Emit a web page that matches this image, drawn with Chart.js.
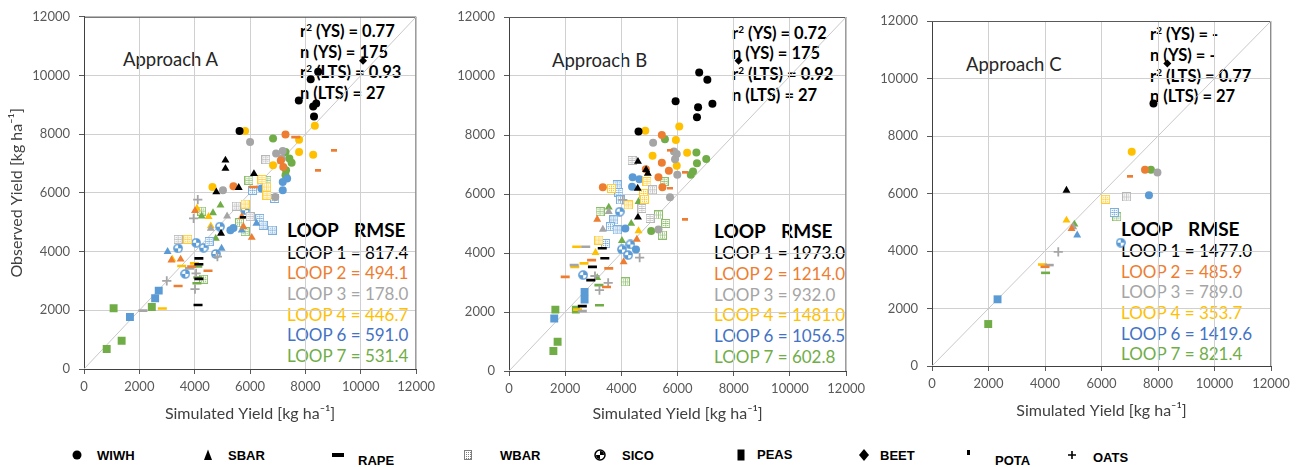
<!DOCTYPE html>
<html><head><meta charset="utf-8">
<script src="https://cdn.jsdelivr.net/npm/chart.js@4.4.0/dist/chart.umd.min.js"></script>
<style>
body{margin:0;width:1302px;height:467px;background:#fff;position:relative;overflow:hidden;font-family:Lato,"Open Sans",sans-serif}
canvas.cv{position:absolute;top:0;z-index:2}
.t{position:absolute;white-space:nowrap;z-index:1;line-height:20px}
.sup{font-size:10px;position:relative;top:-6px}
.lg{position:absolute;white-space:nowrap;font-family:"Liberation Sans",Arial,sans-serif;font-weight:bold;font-size:13px;line-height:16px;color:#000}
.lgi{position:absolute}
</style>
</head><body>
<script>
// ---------------- DATA ----------------
const CATEGORIES = ['WIWH','SBAR','RAPE','WBAR','SICO','PEAS','BEET','POTA','OATS'];
const LOOP_NAMES = ['LOOP 1','LOOP 2','LOOP 3','LOOP 4','LOOP 6','LOOP 7'];
const AXIS_TICKS = [0,2000,4000,6000,8000,10000,12000];

// Approach A: [simulated, observed, crop]
const A_LOOP1 = [[7760,9150,'WIWH'],[8190,9870,'WIWH'],[8460,10130,'WIWH'],[8280,8940,'WIWH'],[8390,9050,'WIWH'],[8310,8600,'WIWH'],[5620,8110,'WIWH'],
  [10080,10500,'BEET'],
  [5110,7110,'SBAR'],[5110,6830,'SBAR'],[4780,6030,'SBAR'],[5590,6180,'SBAR'],[6140,6650,'SBAR'],[4950,4620,'SBAR'],
  [4150,3770,'RAPE'],[4150,3570,'RAPE'],[4150,3070,'RAPE'],[4120,2180,'RAPE'],[5760,5160,'POTA']];
const A_LOOP2 = [[7280,7990,'WIWH'],[7110,7100,'WIWH'],[7200,6880,'WIWH'],[5400,6230,'WIWH'],
  [4010,5390,'SBAR'],[3490,3740,'SBAR'],[3160,3710,'SBAR'],[5760,4850,'SBAR'],[6060,4480,'SBAR'],[5700,5190,'SBAR'],
  [3400,2830,'RAPE'],[4480,3350,'RAPE'],[3890,3490,'RAPE'],[6120,6200,'RAPE'],[7650,7900,'RAPE'],
  [8460,6750,'POTA'],[9040,7430,'POTA']];
const A_LOOP3 = [[6000,7730,'WIWH'],[6940,7340,'WIWH'],[7180,7430,'WIWH'],[7150,7170,'WIWH'],[5020,6090,'WIWH'],[6910,5860,'WIWH'],
  [5170,5210,'SBAR'],[4580,4790,'SBAR'],
  [4110,5770,'OATS'],[3960,5130,'OATS'],[2990,3000,'OATS'],[4010,2720,'OATS'],[4820,3830,'OATS'],[4050,3260,'OATS'],
  [3400,4420,'WBAR'],[6570,7130,'WBAR'],[5500,5550,'WBAR'],[6000,5190,'WBAR'],
  [2130,1990,'RAPE'],[3810,3430,'RAPE']];
const A_LOOP4 = [[5820,8110,'WIWH'],[8340,8290,'WIWH'],[7770,7810,'WIWH'],[7770,7390,'WIWH'],[8280,7300,'WIWH'],[6830,6940,'WIWH'],[4640,6200,'WIWH'],
  [3190,3740,'SBAR'],[4080,5470,'SBAR'],[4500,5190,'SBAR'],[4580,4870,'SBAR'],
  [3750,4420,'WBAR'],[5820,5620,'WBAR'],[6610,5920,'WBAR'],[6430,6460,'WBAR'],[6600,6200,'WBAR'],
  [2830,2060,'RAPE'],[3530,3510,'RAPE'],[3990,3600,'RAPE']];
const A_LOOP6 = [[1660,1770,'PEAS'],[2570,2410,'PEAS'],[2700,2670,'PEAS'],
  [3020,4000,'SBAR'],[4970,4110,'SBAR'],[5700,4730,'SBAR'],[6230,4960,'SBAR'],
  [3400,4110,'SICO'],[4050,4300,'SICO'],[4320,4130,'SICO'],[4760,3920,'SICO'],[4910,4850,'SICO'],[5820,5410,'SICO'],[3660,3240,'SICO'],
  [5290,4730,'WIWH'],[6410,6150,'WIWH'],[7180,6370,'WIWH'],[7180,6090,'WIWH'],[7340,6490,'WIWH'],[5400,4800,'WIWH'],
  [6090,6090,'WBAR'],[6890,5810,'WBAR'],[6350,5130,'WBAR'],[6470,4900,'WBAR'],[6800,4730,'WBAR'],[4520,4340,'WBAR']];
const A_LOOP7 = [[820,680,'PEAS'],[1070,2070,'PEAS'],[1360,960,'PEAS'],[2450,2110,'PEAS'],
  [6830,7850,'WIWH'],[7280,7390,'WIWH'],[7420,7170,'WIWH'],[7500,7030,'WIWH'],[7300,6770,'WIWH'],[7280,6600,'WIWH'],
  [4250,5210,'SBAR'],[4930,5580,'SBAR'],[4660,5320,'SBAR'],[4760,4450,'SBAR'],
  [4250,5380,'WBAR'],[5960,6430,'WBAR'],[6610,6430,'WBAR'],[5820,4680,'WBAR'],[5620,4980,'WBAR'],[4320,3060,'WBAR'],
  [4110,3490,'RAPE'],[4110,3120,'RAPE'],[4080,2920,'RAPE']];

// Approach B
const B_LOOP1 = [[6770,10120,'WIWH'],[7060,9870,'WIWH'],[7240,9060,'WIWH'],[6730,8940,'WIWH'],[6690,8600,'WIWH'],[5930,9140,'WIWH'],[4610,8120,'WIWH'],
  [8170,10520,'BEET'],
  [4590,7100,'SBAR'],[4880,6820,'SBAR'],[4940,6700,'SBAR'],[4580,6190,'SBAR'],[4590,5210,'SBAR'],
  [2970,3530,'RAPE'],[2910,3080,'RAPE'],[2610,2200,'RAPE'],[3320,4160,'RAPE'],[3410,3820,'RAPE']];
const B_LOOP2 = [[3340,6230,'WIWH'],[5440,8000,'WIWH'],[5440,7060,'WIWH'],[5690,6790,'WIWH'],[5320,6570,'WIWH'],[4870,6840,'WIWH'],[5460,6230,'WIWH'],
  [3140,5140,'SBAR'],[4080,3700,'SBAR'],[4550,4460,'SBAR'],
  [2000,3190,'RAPE'],[2940,3760,'RAPE'],[3550,3480,'RAPE'],[3470,2850,'RAPE'],[6260,5120,'POTA'],[5730,7470,'POTA'],[6280,6720,'POTA'],[5740,6190,'POTA']];
const B_LOOP3 = [[5130,7740,'WIWH'],[5870,7440,'WIWH'],[5970,7360,'WIWH'],[5910,7180,'WIWH'],[5990,6650,'WIWH'],[5730,5890,'WIWH'],[5320,4800,'WIWH'],
  [3340,4800,'SBAR'],[3550,5400,'SBAR'],
  [4650,3840,'OATS'],[3220,2740,'OATS'],[3530,2990,'OATS'],[3060,3220,'OATS'],[4050,5800,'OATS'],
  [4380,7140,'WBAR'],[4730,5510,'WBAR'],[5020,5170,'WBAR'],[5110,6140,'WBAR'],
  [2730,4210,'RAPE'],[2320,3590,'RAPE'],[2610,2030,'RAPE']];
const B_LOOP4 = [[4850,8140,'WIWH'],[6060,8290,'WIWH'],[5940,7830,'WIWH'],[5110,7300,'WIWH'],[6340,7400,'WIWH'],[5970,6960,'WIWH'],
  [3080,4010,'SBAR'],[4610,4750,'SBAR'],
  [3650,6190,'WBAR'],[4910,6420,'WBAR'],[4790,6020,'WBAR'],[4820,5820,'WBAR'],[4240,5630,'WBAR'],[3200,4440,'WBAR'],
  [2410,4210,'RAPE'],[2340,3530,'RAPE'],[2670,3650,'RAPE'],[2440,2080,'RAPE']];
const B_LOOP6 = [[1610,1780,'PEAS'],[2690,2680,'PEAS'],[2690,2420,'PEAS'],
  [4400,6570,'WIWH'],[4640,6500,'WIWH'],[4380,6250,'WIWH'],[4140,4830,'WIWH'],[4520,4120,'WIWH'],
  [2640,3250,'SICO'],[3940,5400,'SICO'],[4020,4120,'SICO'],[4240,3930,'SICO'],[4320,4290,'SICO'],
  [3850,6310,'WBAR'],[3910,6050,'WBAR'],[3970,5800,'WBAR'],[3730,5120,'WBAR'],[3610,4890,'WBAR'],[3440,4320,'WBAR'],[3850,4780,'WBAR']];
const B_LOOP7 = [[1650,2080,'PEAS'],[2380,2080,'PEAS'],[1730,990,'PEAS'],[1580,680,'PEAS'],
  [5550,7860,'WIWH'],[6670,7410,'WIWH'],[7020,7190,'WIWH'],[6690,7040,'WIWH'],[6550,6760,'WIWH'],[6470,6650,'WIWH'],[5060,4750,'WIWH'],
  [3550,5550,'SBAR'],[3140,3160,'SBAR'],[4020,4420,'SBAR'],[4350,5000,'SBAR'],[4610,5740,'SBAR'],
  [3240,5400,'WBAR'],[5320,5290,'WBAR'],[5580,5000,'WBAR'],[5460,4610,'WBAR'],[5520,6420,'WBAR'],[4140,3020,'WBAR'],
  [3200,2910,'RAPE'],[3220,2230,'RAPE']];

// Approach C
const C_LOOP1 = [[7840,9130,'WIWH'],[8330,10520,'BEET'],[4760,6110,'SBAR']];
const C_LOOP2 = [[7540,6830,'WIWH'],[7010,6580,'POTA'],[4940,4780,'SBAR'],[4000,3450,'RAPE']];
const C_LOOP3 = [[7980,6730,'WIWH'],[6890,5880,'WBAR'],[5000,4840,'SBAR'],[4470,3970,'OATS'],[4150,3510,'RAPE']];
const C_LOOP4 = [[7070,7450,'WIWH'],[6150,5800,'WBAR'],[4760,5070,'SBAR'],[3910,3530,'RAPE']];
const C_LOOP6 = [[7680,5940,'WIWH'],[6450,5340,'WBAR'],[6680,4290,'SICO'],[5140,4550,'SBAR'],[2320,2320,'PEAS']];
const C_LOOP7 = [[7750,6830,'WIWH'],[6540,5190,'WBAR'],[5040,4930,'SBAR'],[4020,3240,'RAPE'],[1990,1460,'PEAS']];

const RMSE_A = ['817.4','494.1','178.0','446.7','591.0','531.4'];
const RMSE_B = ['1973.0','1214.0','932.0','1481.0','1056.5','602.8'];
const RMSE_C = ['1477.0','485.9','789.0','353.7','1419.6','821.4'];
const STATS_A = ['0.77','175','0.93','27'];
const STATS_B = ['0.72','175','0.92','27'];
const STATS_C = ['-','-','0.77','27'];

// ---------------- STYLE ----------------
const MARK_COLORS = ['#000000','#ED7D31','#A5A5A5','#FFC000','#5B9BD5','#70AD47'];
const TEXT_COLORS = ['#000000','#ED7D31','#A5A5A5','#FFC000','#4472C4','#70AD47'];

function iconCanvas(crop, color){
  const c = document.createElement('canvas');
  if (crop === 'WBAR'){
    c.width = 9; c.height = 9;
    const g2 = c.getContext('2d');
    g2.fillStyle = '#fff'; g2.fillRect(0,0,9,9);
    g2.globalAlpha = 0.8; g2.strokeStyle = color; g2.lineWidth = 1; g2.strokeRect(0.5,0.5,8,8);
    g2.fillStyle = color; g2.globalAlpha = 0.9;
    for (const px of [2,4,6]) for (const py of [2,4,6]) g2.fillRect(px,py,1,1);
    g2.globalAlpha = 0.45; g2.fillRect(1,4,7,1); g2.fillRect(4,1,1,7);
  } else if (crop === 'SICO'){
    c.width = 10; c.height = 10;
    const g2 = c.getContext('2d');
    g2.fillStyle = '#fff'; g2.beginPath(); g2.arc(5,5,4.2,0,Math.PI*2); g2.fill();
    g2.strokeStyle = color; g2.lineWidth = 1.5; g2.beginPath(); g2.arc(5,5,4.1,0,Math.PI*2); g2.stroke();
    g2.fillStyle = color; g2.beginPath(); g2.moveTo(5,5); g2.arc(5,5,4,-Math.PI/2,0); g2.closePath(); g2.fill();
    g2.beginPath(); g2.moveTo(5,5); g2.arc(5,5,4,Math.PI/2,Math.PI); g2.closePath(); g2.fill();
  } else if (crop === 'POTA'){
    c.width = 6; c.height = 3;
    const g2 = c.getContext('2d');
    g2.fillStyle = color; g2.fillRect(0,0,6,2.5);
  }
  return c;
}

function styleFor(crop, color){
  switch(crop){
    case 'WIWH': return {pointStyle:'circle', pointRadius:4, backgroundColor:color, borderColor:color, borderWidth:0};
    case 'SBAR': return {pointStyle:'triangle', pointRadius:4.6, backgroundColor:color, borderColor:color, borderWidth:0};
    case 'RAPE': return {pointStyle:'line', pointRadius:4.5, backgroundColor:color, borderColor:color, borderWidth:2.6};
    case 'PEAS': return {pointStyle:'rect', pointRadius:5.6, backgroundColor:color, borderColor:color, borderWidth:0};
    case 'BEET': return {pointStyle:'rectRot', pointRadius:4, backgroundColor:color, borderColor:color, borderWidth:0};
    case 'OATS': return {pointStyle:'cross', pointRadius:4.6, backgroundColor:color, borderColor:color, borderWidth:1.8};
    default: return {pointStyle: iconCanvas(crop, color), pointRadius:4, backgroundColor:color, borderColor:color};
  }
}

const framePlugin = {
  id:'frame',
  beforeDatasetsDraw(chart){
    const a = chart.chartArea, ctx = chart.ctx;
    ctx.save();
    ctx.lineWidth = 1;
    ctx.strokeStyle = '#595959';
    ctx.beginPath(); ctx.moveTo(a.left, a.top+0.5); ctx.lineTo(a.right, a.top+0.5); ctx.stroke();
    ctx.strokeStyle = '#8c8c8c';
    ctx.beginPath(); ctx.moveTo(a.right-0.5, a.top); ctx.lineTo(a.right-0.5, a.bottom); ctx.stroke();
    ctx.restore();
  }
};

const PANELS = [
  {left:0, width:440, yW:84, padR:18, padT:16, xH:61, tPad:7, yTitle:true, loops:[A_LOOP1,A_LOOP2,A_LOOP3,A_LOOP4,A_LOOP6,A_LOOP7], rmse:RMSE_A, stats:STATS_A,
   statX:300, statY:[31,52,72,93], apX:123, apY:59, ap:'Approach A', loopX:287, rmseX:354, loopY:[230,253,273,294,315,335,356]},
  {left:430, width:440, yW:79, padR:21, padT:17, xH:59, tPad:7, yTitle:false, loops:[B_LOOP1,B_LOOP2,B_LOOP3,B_LOOP4,B_LOOP6,B_LOOP7], rmse:RMSE_B, stats:STATS_B,
   statX:732, statY:[33,53,74,95], apX:552, apY:60, ap:'Approach B', loopX:714, rmseX:781, loopY:[231,253,274,295,315,336,357]},
  {left:860, width:442, yW:72, padR:31, padT:21, xH:64, tPad:10, yTitle:false, loops:[C_LOOP1,C_LOOP2,C_LOOP3,C_LOOP4,C_LOOP6,C_LOOP7], rmse:RMSE_C, stats:STATS_C,
   statX:1150, statY:[34,55,76,96], apX:966, apY:64, ap:'Approach C', loopX:1121, rmseX:1188, loopY:[229,251,272,292,313,334,354]}
];

function addText(html, left, cy, css){
  const d = document.createElement('div');
  d.className = 't'; d.innerHTML = html;
  d.style.left = left + 'px'; d.style.top = (cy - 10) + 'px';
  Object.assign(d.style, css || {});
  document.body.appendChild(d);
}

const H = 430;
PANELS.forEach(p => {
  // texts
  const st = p.stats;
  const lines = ['r<span class="sup">2</span> (YS) = ' + st[0], 'n (YS) = ' + st[1], 'r<span class="sup">2</span> (LTS) = ' + st[2], 'n (LTS) = ' + st[3]];
  lines.forEach((l,i) => addText(l, p.statX, p.statY[i], {fontWeight:'bold', fontSize:'16.5px', color:'#000'}));
  addText(p.ap, p.apX, p.apY, {fontSize:'18.5px', color:'#262626'});
  addText('LOOP', p.loopX, p.loopY[0], {fontWeight:'bold', fontSize:'19px', color:'#000'});
  addText('RMSE', p.rmseX, p.loopY[0], {fontWeight:'bold', fontSize:'19px', color:'#000'});
  LOOP_NAMES.forEach((n,i) => addText(n + ' = ' + p.rmse[i], p.loopX, p.loopY[i+1], {fontSize:'17px', color:TEXT_COLORS[i]}));

  // chart
  const cv = document.createElement('canvas');
  cv.className = 'cv'; cv.width = p.width; cv.height = H;
  cv.style.left = p.left + 'px'; cv.style.width = p.width + 'px'; cv.style.height = H + 'px';
  document.body.appendChild(cv);

  const datasets = [];
  p.loops.forEach((loop, li) => {
    CATEGORIES.forEach(crop => {
      const pts = loop.filter(d => d[2] === crop).map(d => ({x:d[0], y:d[1]}));
      if (!pts.length) return;
      datasets.push(Object.assign({label: LOOP_NAMES[li] + ' ' + crop, data: pts, order: li}, styleFor(crop, MARK_COLORS[li])));
    });
  });
  datasets.push({type:'line', label:'1:1', data:[{x:0,y:0},{x:12000,y:12000}], borderColor:'#c8c8c8', borderWidth:1, pointRadius:0, showLine:true, order:100});

  const gridOpts = {color:'#d0d0d0', borderDash:[6,3,2,3], tickColor:'#595959', tickBorderDash:[], tickLength:5, drawTicks:true};
  const tickFont = {family:'Lato', size:13};
  const fmt = v => String(v);
  new Chart(cv, {
    type:'scatter',
    data:{datasets},
    plugins:[framePlugin],
    options:{
      responsive:false, animation:false, devicePixelRatio:1,
      layout:{padding:{top:p.padT, right:p.padR, left:0, bottom:0}},
      plugins:{legend:{display:false}, tooltip:{enabled:false}},
      scales:{
        x:{type:'linear', min:0, max:12000, grid:gridOpts, border:{color:'#404040', width:1},
           afterBuildTicks:s => { s.ticks = AXIS_TICKS.map(v => ({value:v})); },
           ticks:{color:'#595959', font:tickFont, padding:5, maxRotation:0, autoSkip:false, callback:fmt},
           title:{display:true, text:'Simulated Yield [kg ha⁻¹]', color:'#404040', font:{family:'Lato', size:16}, padding:{top:4, bottom:p.tPad}},
           afterFit:s => { s.height = p.xH; }},
        y:{type:'linear', min:0, max:12000, grid:gridOpts, border:{color:'#404040', width:1},
           afterBuildTicks:s => { s.ticks = AXIS_TICKS.map(v => ({value:v})); },
           ticks:{color:'#595959', font:tickFont, padding:9, callback:fmt},
           title:{display:p.yTitle, text:'Observed Yield [kg ha⁻¹]', color:'#404040', font:{family:'Lato', size:16}, padding:{top:7, bottom:4}},
           afterFit:s => { s.width = p.yW; }}
      }
    }
  });
});

// ---------------- LEGEND ----------------
const LEGEND_POS = [[77,97,456],[208,228,456],[338,358,461],[468,500,456],[600,622,456],[741,757,455],[864,880,456],[968,995,461],[1072,1093,458]];
function legendIcon(crop){
  const c = document.createElement('canvas'); c.width = 16; c.height = 16;
  const g = c.getContext('2d'); g.fillStyle = '#000'; g.strokeStyle = '#000';
  switch(crop){
    case 'WIWH': g.beginPath(); g.arc(8,8,4.5,0,Math.PI*2); g.fill(); break;
    case 'SBAR': g.beginPath(); g.moveTo(8,2.5); g.lineTo(12,13); g.lineTo(4,13); g.closePath(); g.fill(); break;
    case 'RAPE': g.fillRect(2,6,12,4); break;
    case 'WBAR': g.fillStyle='#fff'; g.fillRect(4,3,8,10); g.strokeStyle='#7f7f7f'; g.strokeRect(4.5,3.5,7,9); g.fillStyle='#7f7f7f';
      for (const px of [6,8,10]) for (const py of [5,7,9,11]) g.fillRect(px,py,1,1); break;
    case 'SICO': g.lineWidth=1.5; g.beginPath(); g.arc(8,8,5,0,Math.PI*2); g.stroke();
      g.beginPath(); g.moveTo(8,8); g.arc(8,8,4,-Math.PI/2,0); g.closePath(); g.fill();
      g.beginPath(); g.moveTo(8,8); g.arc(8,8,4,Math.PI/2,Math.PI); g.closePath(); g.fill(); break;
    case 'PEAS': g.fillRect(4.5,2.5,7,11); break;
    case 'BEET': g.beginPath(); g.moveTo(8,2); g.lineTo(13,8); g.lineTo(8,14); g.lineTo(3,8); g.closePath(); g.fill(); break;
    case 'POTA': g.fillRect(7,3,3,5); break;
    case 'OATS': g.lineWidth=1.6; g.beginPath(); g.moveTo(8,4); g.lineTo(8,12); g.moveTo(4,8); g.lineTo(12,8); g.stroke(); break;
  }
  return c;
}
CATEGORIES.forEach((crop,i) => {
  const [ix, lx, ly] = LEGEND_POS[i];
  const ic = legendIcon(crop); ic.className = 'lgi';
  ic.style.left = (ix - 8) + 'px'; ic.style.top = (455 - 8) + 'px';
  document.body.appendChild(ic);
  const d = document.createElement('div'); d.className = 'lg'; d.textContent = crop;
  d.style.left = lx + 'px'; d.style.top = (ly - 8) + 'px';
  document.body.appendChild(d);
});
</script>
</body></html>
